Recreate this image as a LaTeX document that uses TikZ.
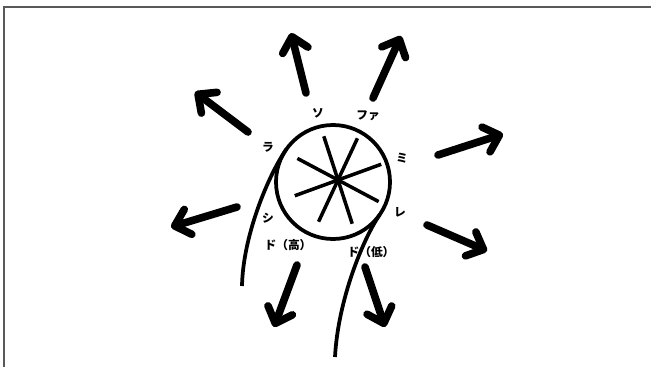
\documentclass[tikz,border=0pt]{standalone}
\usepackage{fontspec}
\newfontfamily\jpfont{Noto Sans CJK JP}
\usetikzlibrary{arrows.meta}
\begin{document}
\begin{tikzpicture}[x=0.03cm, y=-0.03cm,
  arr/.style={line width=6.5pt, line cap=round,
    -{Straight Barb[length=0.42cm, width=0.78cm, round]}},
  ring/.style={line width=3.2pt},
  spoke/.style={line width=3pt}]
  \tikzset{lbl/.style={font=\jpfont\bfseries\fontsize{10}{10}\selectfont, inner sep=0pt}}
  \tikzset{frame/.style={draw=black!65, line width=1.1pt}}
  \useasboundingbox (0,0) rectangle (651,367);
  % frame (top and left only)
  \draw[frame] (4,367) -- (4,7) -- (651,7);
  % ring and spokes
  \coordinate (ctr) at (333,182);
  \coordinate (hub) at (338,180);
  \draw[ring] (ctr) circle[radius=57];
  \foreach \a in {20,65,108,152}
    \draw[spoke] (hub) ++(-\a:46) -- ++(180-\a:92);
  % tails of the loop
  \coordinate (lt) at (286.3,149.3);
  \coordinate (rt) at (379.7,214.7);
  \coordinate (lb) at (242,286);
  \coordinate (rb) at (335,357);
  \draw[ring] (lb) .. controls (243,235) and (269,174) .. (lt);
  \draw[ring] (rb) .. controls (338,300) and (363,239) .. (rt);
  % arrows
  \draw[arr] (248,132) -- (195,92);
  \draw[arr] (306,93) -- (291,33);
  \draw[arr] (373,98) -- (401,36);
  \draw[arr] (438,155) -- (503,134);
  \draw[arr] (427,225) -- (487,251);
  \draw[arr] (365,267) -- (385,327);
  \draw[arr] (297,265) -- (274,327);
  \draw[arr] (237,207) -- (171,227);
  % note names
  \node[lbl] (so) at (318,113) {ソ};
  \node[lbl] (fa) at (368,116) {ファ};
  \node[lbl] (ra) at (268,147) {ラ};
  \node[lbl] (mi) at (402,158) {ミ};
  \node[lbl] (re) at (400,212) {レ};
  \node[lbl] (si) at (268,218) {シ};
  \node[lbl] (doh) at (288,245) {ド（高）};
  \node[lbl] (dol) at (371,252) {ド（低）};
\end{tikzpicture}
\end{document}
